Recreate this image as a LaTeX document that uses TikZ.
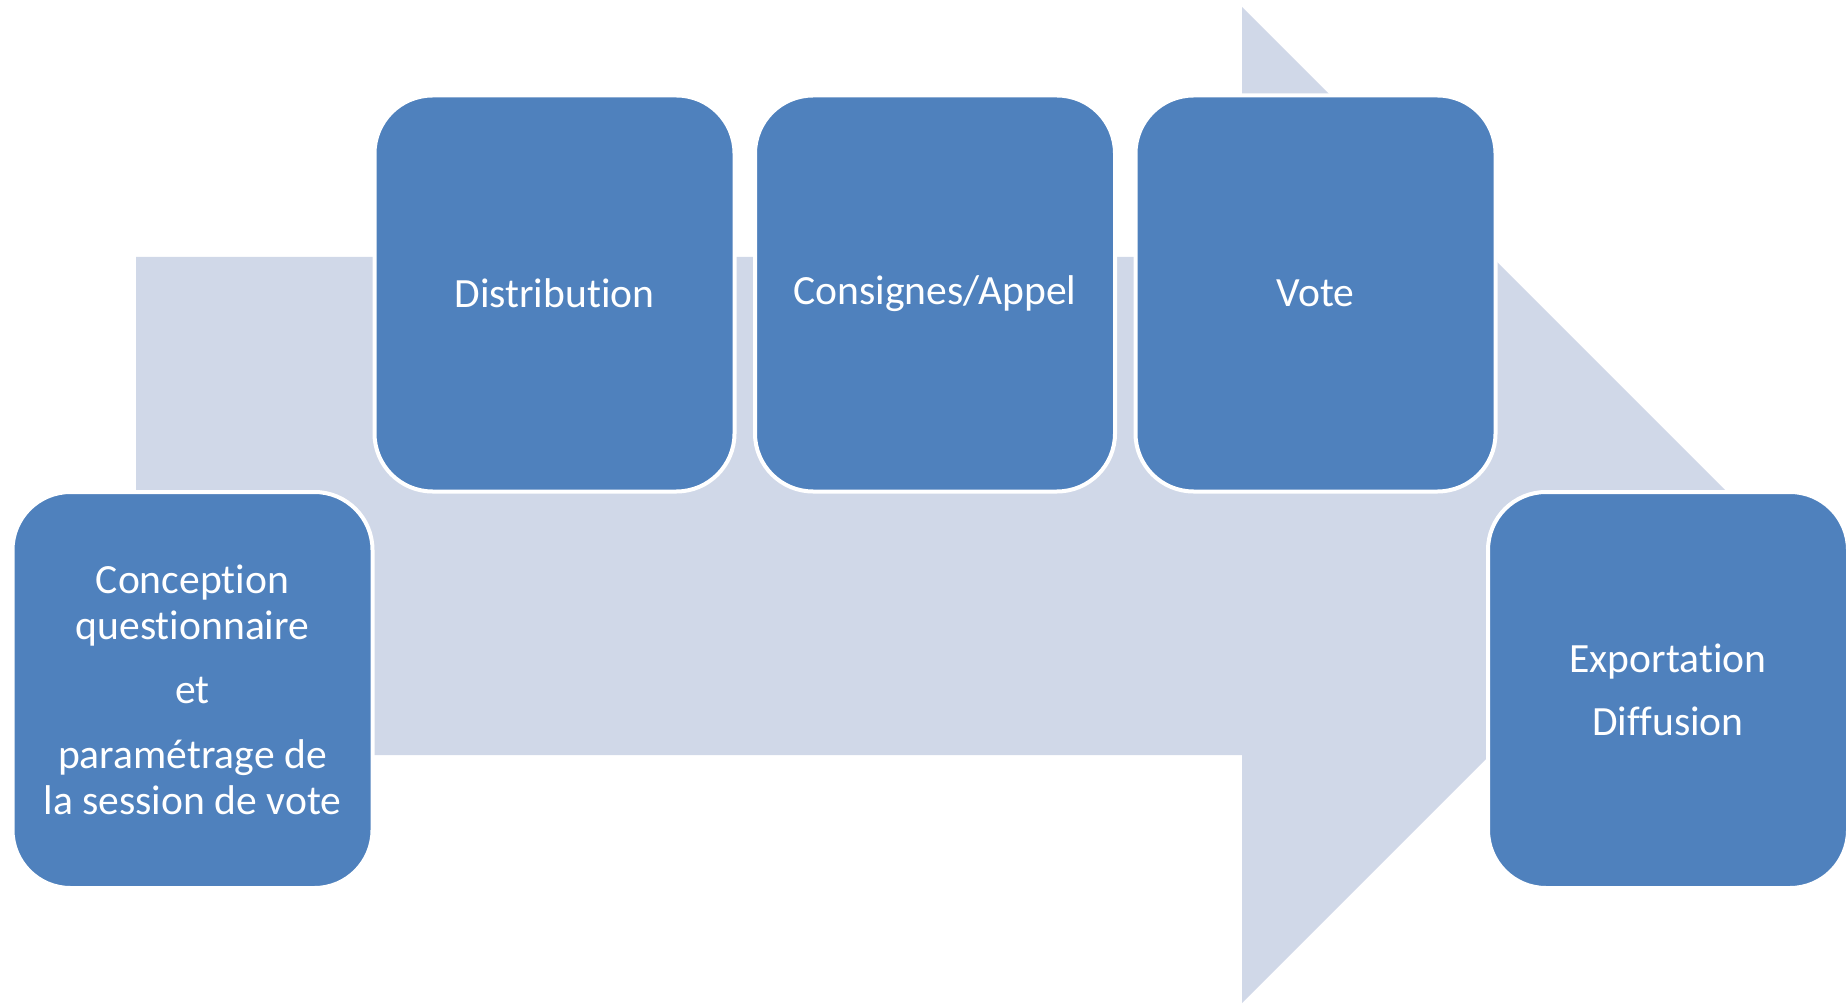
\documentclass[tikz,border=0pt]{standalone}
\usepackage{fontspec}
\setmainfont{Carlito}[Ligatures=NoCommon]
\definecolor{boxblue}{HTML}{4F81BD}
\definecolor{arrowfill}{HTML}{D0D8E8}
\newcommand\tightsp{\spaceskip=4.6pt plus 0.5pt minus 0.5pt\relax}
\begin{document}
\begin{tikzpicture}[x=0.5pt,y=-0.5pt,
  stepbox/.style={draw=white, line width=2pt, fill=boxblue, rounded corners=29pt,
    minimum width=180pt, minimum height=198pt, inner sep=0pt, text=white,
    align=center, text width=172pt,
    font=\fontsize{20.8}{23}\selectfont}]
\useasboundingbox (0,0) rectangle (1847,1005);
\fill[arrowfill] (136,257) -- (1242,257) -- (1242,7) -- (1740,505) -- (1242,1003) -- (1242,755) -- (136,755) -- cycle;
\node[stepbox] (conc) at (192.5,690) {\tightsp Conception\\questionnaire\\[9pt]et\\[9.5pt]paramétrage de\\la session de vote};
\node[stepbox] (dist) at (554.5,293.5) {Distribution};
\node[stepbox] (cons) at (935,293.5) {Consignes/Appel};
\node[stepbox] (vote) at (1315.5,293.5) {Vote};
\node[stepbox] (expo) at (1668,690) {Exportation\\[8.5pt]Diffusion};
\end{tikzpicture}
\end{document}
